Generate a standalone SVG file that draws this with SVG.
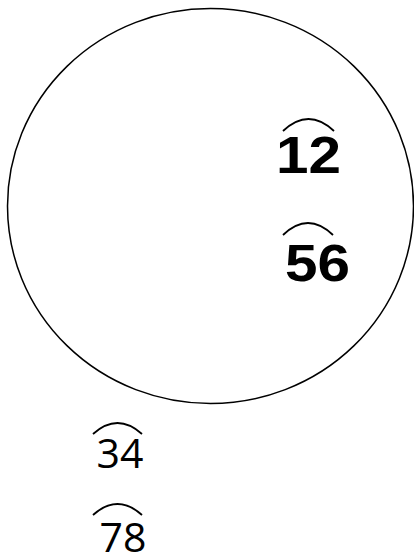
<svg xmlns="http://www.w3.org/2000/svg" width="414" height="558" viewBox="0 0 414 558">
<style>
.arc{fill:none;stroke:#000;stroke-width:1.8}
.b{font-family:"Liberation Sans",Arial,sans-serif;font-weight:bold;font-size:51px;fill:#000}
.r{font-family:"Open Sans","Noto Sans",sans-serif;font-size:41px;fill:#000}
</style>
<rect width="414" height="558" fill="#fff"/>
<g id="circle"><ellipse cx="210.5" cy="206" rx="203" ry="197.5" fill="none" stroke="#000" stroke-width="1.5"/></g>
<g id="n12"><path class="arc" d="M283 131 Q308.5 107 334 131"/><text class="b" x="276" y="173" textLength="65" lengthAdjust="spacingAndGlyphs">12</text></g>
<g id="n56"><path class="arc" d="M283 235 Q308 211 333 235"/><text class="b" x="285" y="281" textLength="65" lengthAdjust="spacingAndGlyphs">56</text></g>
<g id="n34"><path class="arc" d="M93 434 Q117.5 412 142 434"/><text class="r" x="120" y="468" text-anchor="middle">34</text></g>
<g id="n78"><path class="arc" d="M93 515 Q117.5 493 142 515"/><text class="r" x="123" y="552" text-anchor="middle">78</text></g>
</svg>
